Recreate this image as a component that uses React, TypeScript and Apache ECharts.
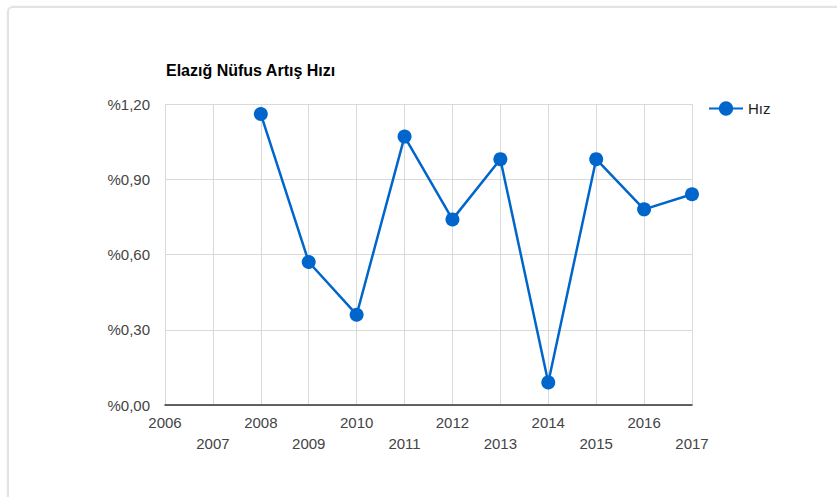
import React, { useEffect, useRef } from "react";
import * as echarts from "echarts";

const years = ["2006", "2007", "2008", "2009", "2010", "2011", "2012", "2013", "2014", "2015", "2016", "2017"];
const hiz: (number | null)[] = [null, null, 1.16, 0.57, 0.36, 1.07, 0.74, 0.98, 0.09, 0.98, 0.78, 0.84];
const yTicks = { min: 0, max: 1.2, interval: 0.3 };
const title = "Elazığ Nüfus Artış Hızı";
const seriesName = "Hız";

export default function App() {
  const ref = useRef<HTMLDivElement>(null);
  useEffect(() => {
    if (!ref.current) return;
    const chart = echarts.init(ref.current, null, { renderer: "svg" });
    const font = "Arial, 'Liberation Sans', sans-serif";
    chart.setOption({
      animation: false,
      textStyle: { fontFamily: font },
      title: {
        text: title,
        left: 161,
        top: 57,
        textStyle: { fontSize: 16, fontWeight: "bold", color: "#000", fontFamily: font },
      },
      legend: {
        data: [seriesName],
        left: 703,
        top: 96,
        padding: 5,
        itemWidth: 34,
        itemHeight: 18,
        itemGap: 6,
        textStyle: { fontSize: 15, color: "#222", fontFamily: font },
      },
      grid: { left: 165, right: 145, top: 104, bottom: 92, containLabel: false },
      xAxis: {
        type: "category",
        data: years,
        boundaryGap: false,
        axisTick: { show: false },
        axisLine: { show: true, lineStyle: { color: "#333", width: 1.5 } },
        splitLine: { show: true, lineStyle: { color: "#d9d9d9", width: 1 } },
        axisLabel: {
          interval: 0,
          margin: 7,
          fontSize: 15,
          color: "#444",
          lineHeight: 21,
          fontFamily: font,
          formatter: (v: string, i: number) => (i % 2 === 0 ? v : "\n" + v),
        },
      },
      yAxis: {
        type: "value",
        min: yTicks.min,
        max: yTicks.max,
        interval: yTicks.interval,
        axisLine: { show: false },
        axisTick: { show: false },
        splitLine: { lineStyle: { color: "#d9d9d9", width: 1 } },
        axisLabel: {
          margin: 15,
          fontSize: 15,
          color: "#444",
          fontFamily: font,
          formatter: (v: number) => "%" + v.toFixed(2).replace(".", ","),
        },
      },
      series: [
        {
          name: seriesName,
          type: "line",
          data: hiz,
          symbol: "circle",
          symbolSize: 14,
          showSymbol: true,
          connectNulls: false,
          lineStyle: { color: "#0066cc", width: 2.5 },
          itemStyle: { color: "#0066cc" },
        },
      ],
    });
    return () => chart.dispose();
  }, []);

  return (
    <div style={{ position: "fixed", left: 0, top: 0, width: 837, height: 497, overflow: "hidden", background: "#fff" }}>
      <div
        style={{
          position: "absolute",
          left: 7,
          top: 6,
          width: 900,
          height: 600,
          border: "2px solid #e3e3e3",
          borderRadius: 6,
          boxSizing: "border-box",
          boxShadow: "0 0 2px rgba(0,0,0,0.08)",
        }}
      />
      <div ref={ref} style={{ position: "absolute", left: 0, top: 0, width: 837, height: 497 }} />
    </div>
  );
}
